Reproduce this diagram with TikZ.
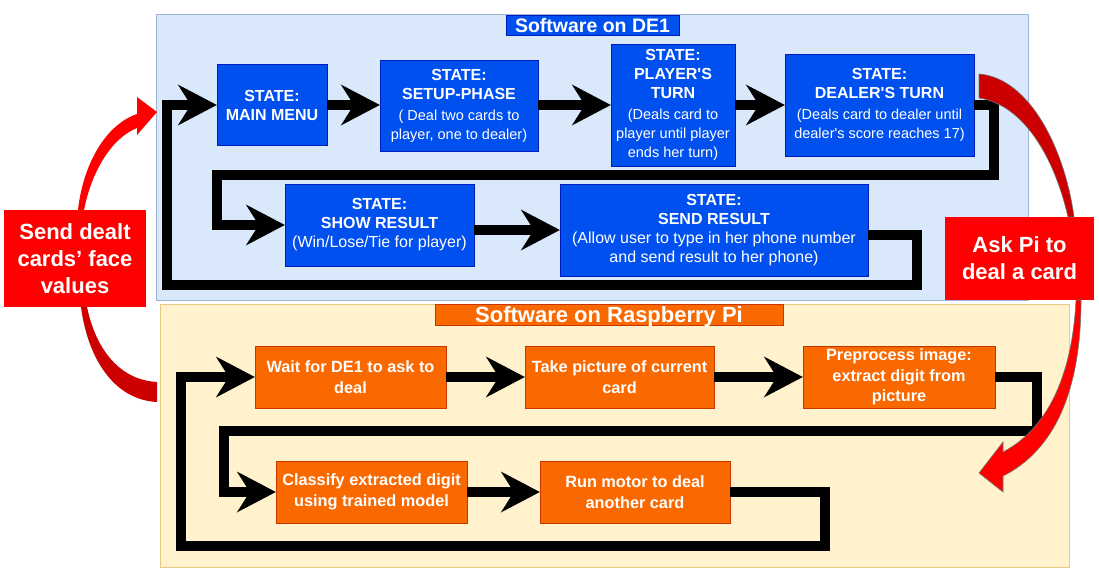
\documentclass[tikz,border=0pt]{standalone}
\usepackage{fontspec}
\newfontfamily\lib{Liberation Sans}
\usetikzlibrary{arrows.meta}
\definecolor{bfill}{HTML}{0050EF}
\definecolor{bbord}{HTML}{001DBC}
\definecolor{ofill}{HTML}{FA6800}
\definecolor{obord}{HTML}{C73500}
\definecolor{debg}{HTML}{DAE8FC}
\definecolor{deborder}{HTML}{9DB4D6}
\definecolor{pibg}{HTML}{FFF2CC}
\definecolor{piborder}{HTML}{E5CB7F}
\definecolor{redA}{HTML}{FF0000}
\definecolor{redB}{HTML}{CC0000}
\tikzset{
  bluebox/.style={draw=bbord, fill=bfill, text=white, align=center, inner sep=0pt,
    font=\lib\fontsize{16}{19}\selectfont\bfseries},
  orangebox/.style={draw=obord, fill=ofill, text=white, align=center, inner sep=0pt,
    minimum height=62pt, font=\lib\fontsize{16.3}{20.5}\selectfont\bfseries},
  redbox/.style={fill=redA, text=white, align=center, inner sep=0pt,
    font=\lib\fontsize{22}{27}\selectfont\bfseries},
  conn/.style={line width=9.5pt, line join=miter, black,
    -{Stealth[length=39pt,width=41pt,inset=13pt,line width=0pt]}},
}
\newcommand{\paren}{\mdseries\fontsize{14.5}{19}\selectfont}
\newcommand{\parenL}{\mdseries\fontsize{16}{19.5}\selectfont}
\begin{document}
\begin{tikzpicture}[x=1pt,y=-1pt]
\useasboundingbox[fill=white] (0,0) rectangle (1099,575);

% panels
\node[draw=deborder, fill=debg, line width=1pt, minimum width=872pt, minimum height=285pt, inner sep=0pt] (de1) at (592,157.5) {};
\node[draw=piborder, fill=pibg, line width=1pt, minimum width=909pt, minimum height=263pt, inner sep=0pt] (pi) at (614.5,435.5) {};

% titles
\node[fill=bfill, draw=bbord, text=white, inner sep=0pt, minimum width=173pt, minimum height=20pt,
  text height=16pt, text depth=1.5pt, font=\lib\fontsize{19.5}{20}\selectfont\bfseries] (detitle) at (592.5,25) {Software on DE1};
\node[fill=ofill, draw=obord, text=white, inner sep=0pt, minimum width=348pt, minimum height=21pt,
  text height=18pt, text depth=2pt, font=\lib\fontsize{22}{22}\selectfont\bfseries] (pititle) at (609,314.5) {Software on Raspberry Pi};

% DE1 states
\node[bluebox, minimum width=110pt, minimum height=81pt] (mm) at (272,105) {STATE:\\MAIN MENU};
\node[bluebox, minimum width=158pt, minimum height=91pt] (setup) at (459,105.5)
  {STATE:\\SETUP-PHASE\\[2pt]\paren ( Deal two cards to\\\paren player, one to dealer)};
\node[bluebox, minimum width=124pt, minimum height=122pt] (player) at (673,105)
  {STATE:\\PLAYER'S\\TURN\\[2pt]\paren (Deals card to\\\paren player until player\\\paren ends her turn)};
\node[bluebox, minimum width=189pt, minimum height=102pt] (dealer) at (879.5,105)
  {STATE:\\DEALER'S TURN\\[2pt]\paren (Deals card to dealer until\\\paren dealer's score reaches 17)};
\node[bluebox, minimum width=189pt, minimum height=82pt] (show) at (379.5,225)
  {STATE:\\SHOW RESULT\\\parenL (Win/Lose/Tie for player)};
\node[bluebox, minimum width=308pt, minimum height=92pt] (send) at (714,230)
  {STATE:\\SEND RESULT\\\parenL (Allow user to type in her phone number\\\parenL and send result to her phone)};

% Pi steps
\node[orangebox, minimum width=191pt] (wait) at (350.5,377) {Wait for DE1 to ask to\\deal};
\node[orangebox, minimum width=189pt] (take) at (619.5,377) {Take picture of current\\card};
\node[orangebox, minimum width=192pt] (prep) at (899,377) {Preprocess image:\\extract digit from\\picture};
\node[orangebox, minimum width=191pt] (classify) at (371.5,492) {Classify extracted digit\\using trained model};
\node[orangebox, minimum width=190pt] (run) at (635,492) {Run motor to deal\\another card};

% loop coordinates
\coordinate (d1) at (994,105);
\coordinate (d2) at (994,175);
\coordinate (d3) at (217,175);
\coordinate (d4) at (217,225);
\coordinate (s0) at (868,235);
\coordinate (s1) at (917,235);
\coordinate (s2) at (917,285);
\coordinate (s3) at (167,285);
\coordinate (s4) at (167,105);
\coordinate (p1) at (1037,377);
\coordinate (p2) at (1037,431);
\coordinate (p3) at (224,431);
\coordinate (p4) at (224,492);
\coordinate (r1) at (825,492);
\coordinate (r2) at (825,546);
\coordinate (r3) at (181,546);
\coordinate (r4) at (181,377);

% DE1 connectors
\draw[conn] (mm.east) -- (mm.east -| setup.west);
\draw[conn] (setup.east |- mm.east) -- (player.west);
\draw[conn] (player.east) -- (dealer.west);
\draw[conn] (dealer.east) -- (d1) -- (d2) -- (d3) -- (d4) -- (show.west);
\draw[conn] (show.east |- send.west) -- (send.west);
\draw[conn] (s0) -- (s1) -- (s2) -- (s3) -- (s4) -- (mm.west);

% Pi connectors
\draw[conn] (wait.east) -- (take.west);
\draw[conn] (take.east) -- (prep.west);
\draw[conn] (prep.east) -- (p1) -- (p2) -- (p3) -- (p4) -- (classify.west);
\draw[conn] (classify.east) -- (run.west);
\draw[conn] (run.east) -- (r1) -- (r2) -- (r3) -- (r4) -- (wait.west);

% red side boxes
\node[redbox, minimum width=142pt, minimum height=97pt] (sendbox) at (75,258.5) {Send dealt\\cards’ face\\values};
\node[redbox, minimum width=149pt, minimum height=83pt] (askbox) at (1019.5,258.5) {Ask Pi to\\deal a card};

% red curved arrows
\fill[redA] (78,210) .. controls (83,165) and (105,125) .. (137,114) -- (137,97) -- (157,112)
  -- (137,135) -- (137,128) .. controls (112,138) and (92,170) .. (84,210) -- cycle;
\fill[redB] (81,307) .. controls (88,360) and (115,400) .. (157,402) -- (157,382)
  .. controls (120,380) and (96,350) .. (87,307) -- cycle;
\filldraw[fill=redB, draw=black!55, line width=0.6pt] (979,74) .. controls (1030,78) and (1065,150) .. (1074,217)
  -- (1068,217) .. controls (1055,160) and (1025,105) .. (979,98) -- cycle;
\filldraw[fill=redA, draw=black!55, line width=0.6pt] (1076,300) .. controls (1072,380) and (1045,430) .. (1003,452)
  -- (1003,442) -- (979,473) -- (1003,492) -- (1003,476)
  .. controls (1055,450) and (1081,390) .. (1081,300) -- cycle;
\end{tikzpicture}
\end{document}
